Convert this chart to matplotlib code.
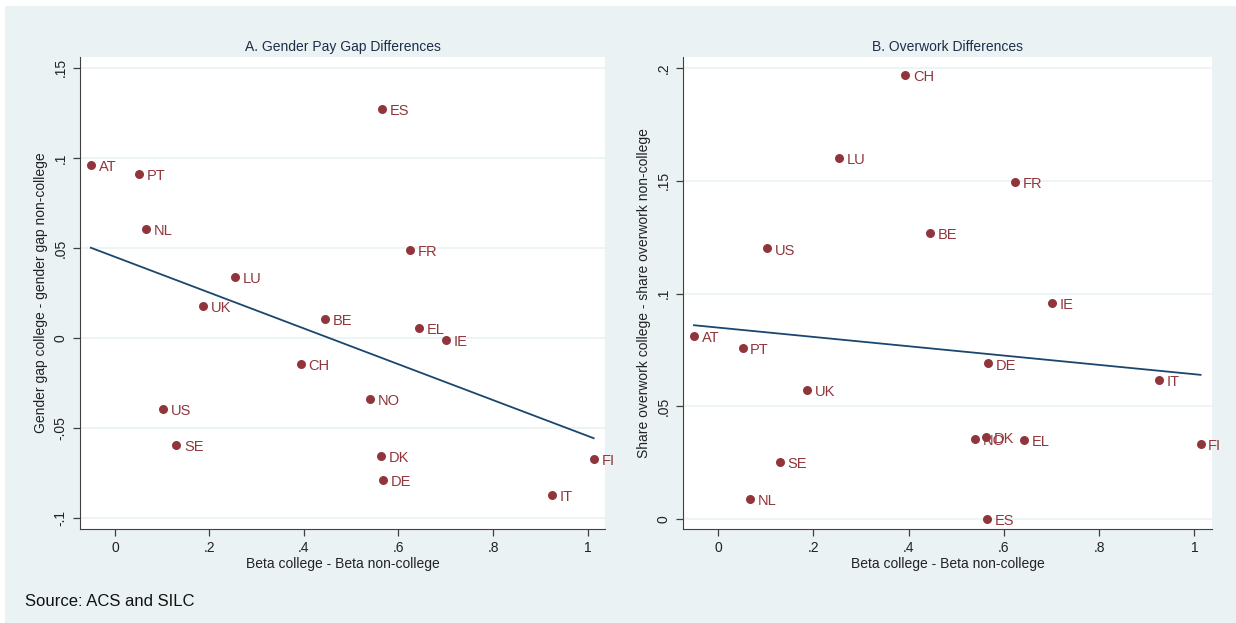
import numpy as np
import matplotlib
matplotlib.use('Agg')
import matplotlib.pyplot as plt
from matplotlib.patches import Rectangle

countries = ['AT', 'PT', 'NL', 'ES', 'FR', 'LU', 'UK', 'BE', 'EL', 'IE',
             'CH', 'NO', 'US', 'SE', 'DK', 'DE', 'FI', 'IT']
beta_diff = [-0.051, 0.051, 0.066, 0.565, 0.624, 0.254, 0.186, 0.444, 0.643, 0.700,
             0.393, 0.540, 0.102, 0.130, 0.563, 0.567, 1.013, 0.925]
pay_gap_diff = [0.096, 0.091, 0.0606, 0.127, 0.049, 0.034, 0.018, 0.0105, 0.0055, -0.0012,
                -0.0145, -0.034, -0.0395, -0.0595, -0.0655, -0.079, -0.067, -0.087]
overwork_diff = [0.081, 0.076, 0.0089, 0.0002, 0.1495, 0.160, 0.0572, 0.127, 0.0350, 0.0958,
                 0.197, 0.0355, 0.120, 0.0253, 0.0364, 0.069, 0.0333, 0.0617]

x_ticks = [0, 0.2, 0.4, 0.6, 0.8, 1]
x_ticklabels = ['0', '.2', '.4', '.6', '.8', '1']
a_yticks = [-0.1, -0.05, 0, 0.05, 0.1, 0.15]
a_yticklabels = ['-.1', '-.05', '0', '.05', '.1', '.15']
b_yticks = [0, 0.05, 0.1, 0.15, 0.2]
b_yticklabels = ['0', '.05', '.1', '.15', '.2']

BG = '#EAF2F3'
MARK = '#90353B'
LINE = '#1A476F'
AXC = '#404040'
plt.rcParams['font.family'] = ['Liberation Sans', 'DejaVu Sans']

fig = plt.figure(figsize=(12.36, 6.23), dpi=100)
fig.patch.set_facecolor('white')
fig.patches.append(Rectangle((5 / 1236, 0), 1, 1 - 6 / 623, transform=fig.transFigure,
                             facecolor=BG, edgecolor='none', zorder=-10))


def panel(rect, y, title, ylabel, yticks, yticklabels, ylim):
    ax = fig.add_axes(rect)
    ax.set_facecolor('white')
    for ytk in yticks:
        ax.axhline(ytk, color=BG, linewidth=1.2, zorder=0)
    ax.scatter(beta_diff, y, s=42, color=MARK, zorder=3, linewidths=0)
    for c, xv, yv in zip(countries, beta_diff, y):
        ax.annotate(c, (xv, yv), xytext=(5.5, -1.5), textcoords='offset points',
                    ha='left', va='center', fontsize=10.5, color=MARK,
                    annotation_clip=False, clip_on=False)
    slope, inter = np.polyfit(beta_diff, y, 1)
    xs = np.array([min(beta_diff), max(beta_diff)])
    ax.plot(xs, slope * xs + inter, color=LINE, linewidth=1.3, zorder=2)
    ax.set_xlim(-0.074, 1.037)
    ax.set_ylim(*ylim)
    ax.set_xticks(x_ticks)
    ax.set_xticklabels(x_ticklabels)
    ax.set_yticks(yticks)
    ax.set_yticklabels(yticklabels, rotation=90, va='center')
    ax.tick_params(axis='both', direction='out', length=5, width=0.9, color=AXC,
                   labelsize=10, labelcolor='#222222', pad=4)
    ax.spines['top'].set_visible(False)
    ax.spines['right'].set_visible(False)
    ax.spines['left'].set_color(AXC)
    ax.spines['bottom'].set_color(AXC)
    ax.set_title(title, fontsize=10, color='#1E2D4A', pad=4)
    ax.set_xlabel('Beta college - Beta non-college', fontsize=10, color='#222222', labelpad=1)
    ax.set_ylabel(ylabel, fontsize=10, color='#222222', labelpad=4)
    return ax


panel([80 / 1236, 1 - 529 / 623, 525 / 1236, 472 / 623], pay_gap_diff,
      'A. Gender Pay Gap Differences', 'Gender gap college - gender gap non-college',
      a_yticks, a_yticklabels, (-0.106, 0.156))
panel([683 / 1236, 1 - 529 / 623, 529 / 1236, 472 / 623], overwork_diff,
      'B. Overwork Differences', 'Share overwork college - share overwork non-college',
      b_yticks, b_yticklabels, (-0.0044, 0.2049))

fig.text(25 / 1236, 1 - 601 / 623, 'Source: ACS and SILC', fontsize=12,
         color='#111111', ha='left', va='center')

fig.savefig('out.png', dpi=100, facecolor=fig.get_facecolor())
